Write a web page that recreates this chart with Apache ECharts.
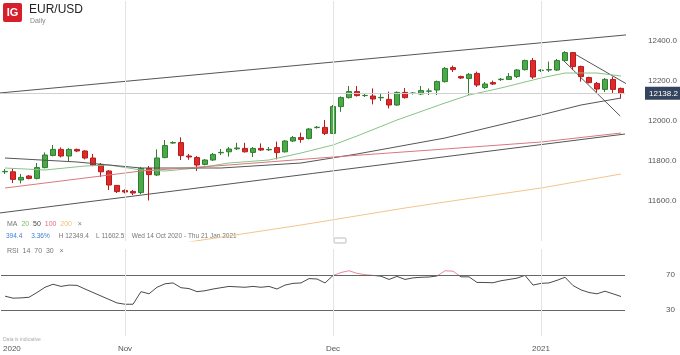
<!DOCTYPE html>
<html>
<head>
<meta charset="utf-8">
<script src="https://cdn.jsdelivr.net/npm/echarts@6/dist/echarts.min.js"></script>
<style>
  html, body { margin: 0; padding: 0; background: #fff; }
  #chart { width: 680px; height: 355px; }
</style>
</head>
<body>
<div id="chart"></div>
<script>
// daily candles, 14 Oct 2020 .. mid Jan 2021 (price x 10000)
const opens = [11746,11746,11705,11725,11713,11767,11828,11858,11825,11858,11850,11815,11783,11750,11678,11652,11648,11642,11763,11730,
  11817,11890,11892,11825,11817,11783,11805,11841,11846,11861,11863,11843,11863,11856,11867,11846,11900,11917,11913,11967,
  11968,11938,12072,12117,12147,12127,12125,12116,12108,12080,12143,12138,12135,12149,12155,12197,12267,12222,12213,12238,
  12167,12192,12207,12208,12222,12257,12302,12252,12255,12255,12302,12342,12272,12217,12188,12158,12208,12163];
const closes = [11748,11708,11718,11713,11767,11830,11858,11825,11858,11850,11815,11780,11746,11680,11647,11645,11640,11763,11732,11815,
  11877,11892,11827,11820,11780,11805,11833,11843,11860,11865,11846,11863,11855,11858,11842,11900,11917,11908,11960,11969,
  11938,12072,12117,12147,12127,12128,12110,12118,12080,12143,12117,12140,12152,12150,12197,12263,12257,12215,12233,12180,
  12185,12185,12209,12222,12255,12302,12220,12254,12257,12302,12342,12272,12222,12192,12160,12208,12158,12138.2];
const highs = [11760,11762,11735,11730,11790,11843,11880,11868,11864,11862,11855,11835,11790,11755,11680,11658,11655,11770,11775,11858,
  11905,11898,11918,11835,11825,11810,11840,11860,11870,11891,11891,11870,11888,11870,11897,11905,11925,11942,11965,11975,
  12005,12080,12123,12175,12175,12135,12163,12138,12147,12148,12165,12145,12175,12163,12202,12270,12277,12227,12240,12247,
  12195,12202,12215,12240,12260,12307,12315,12260,12297,12310,12349.4,12345,12277,12222,12195,12215,12222,12167];
const lows = [11735,11690,11688,11708,11708,11763,11823,11818,11797,11844,11808,11774,11720,11655,11640,11638,11630,11634,11602.5,11725,
  11814,11886,11805,11806,11750,11778,11800,11830,11822,11855,11842,11820,11850,11850,11808,11842,11895,11891,11908,11962,
  11930,11935,12046,12112,12122,12120,12083,12100,12063,12075,12112,12132,12130,12130,12130,12192,12245,12210,12130,12170,
  12160,12180,12200,12205,12215,12252,12210,12245,12245,12250,12295,12255,12197,12188,12142,12145,12138,12113];

const rsi14 = [45.8,43.5,43.8,44.5,50,56,59.5,57,58.5,58.2,54,50,46,42,38,36.5,36.5,51,48.5,56,
  60,61,55.5,54.5,51,52,54,55.5,57,56.5,56,57,56,57,54,58.5,60.5,61,66,65.5,
  61,69.5,73,75,72,70.5,69.7,68.7,65,68.5,65,66.8,67.5,67.8,69,75,74.5,68,68,61.6,
  61.5,61.2,63.5,65,66.5,69.7,58.5,60.5,61,64,67.5,58,53,50,48.5,51.5,48.5,45.4];

// moving averages: [candle index, price]
const ma20 = [[0,11765],[5,11755],[10,11775],[13,11780],[17,11755],[20,11750],[24,11765],[28,11790],[33,11805],[37,11840],
  [41,11880],[44,11925],[49,12005],[55,12090],[58,12130],[62,12165],[67,12215],[70,12240],[74,12240],[77,12225]];
const ma50 = [[0,11815],[9,11795],[17,11765],[27,11765],[37,11790],[44,11835],[55,11915],[67,12030],[72,12080],[77,12115]];
const ma100 = [[0,11665],[17,11750],[28,11780],[41,11820],[55,11860],[67,11895],[77,11940]];
const ma200 = [[23,11395],[37,11480],[50,11565],[55,11595],[67,11665],[77,11735]];

// hand drawn trend lines
const trendLines = [
  [[-0.7, 12140], [77.8, 12431]],
  [[-0.7, 11540], [77.5, 11935]],
  [[71, 12340], [77.8, 12183]],
  [[70, 12295], [76.9, 12025]]
];

const monthTicks = { 15: 'Nov', 41: 'Dec', 67: '2021' };
const lastPrice = 12138.2;
const rsiLevels = [70, 30];

const FONT = 'Liberation Sans, Arial, sans-serif';
const cats = opens.map((_, i) => String(i));
const candles = opens.map((o, i) => [o, closes[i], lows[i], highs[i]]);
const monthMarks = Object.keys(monthTicks).map((k) => ({
  xAxis: k, lineStyle: { color: '#e4e4e4', width: 1, type: 'solid' }, label: { show: false }
}));

const chart = echarts.init(document.getElementById('chart'));

const maLine = (name, data, color) => ({
  name, type: 'line', xAxisIndex: 2, yAxisIndex: 0, data,
  symbol: 'none', silent: true, clip: true,
  lineStyle: { color, width: 1 }
});

// RSI above 70 drawn pink (gradient in pixel space of the RSI grid)
const rsiColor = {
  type: 'linear', x: 0, y: 249, x2: 0, y2: 336, global: true,
  colorStops: [
    { offset: 0, color: '#e6899a' }, { offset: 0.3, color: '#e6899a' },
    { offset: 0.3, color: '#4a4a4a' }, { offset: 1, color: '#4a4a4a' }
  ]
};

chart.setOption({
  animation: false,
  textStyle: { fontFamily: FONT },
  grid: [
    { left: 1, right: 55, top: 1, height: 240 },
    { left: 1, right: 55, top: 249, height: 87 }
  ],
  xAxis: [
    {
      type: 'category', gridIndex: 0, data: cats, boundaryGap: true,
      axisLine: { show: false }, axisTick: { show: false }, axisLabel: { show: false }, splitLine: { show: false }
    },
    {
      type: 'category', gridIndex: 1, data: cats, boundaryGap: true,
      axisLine: { show: false }, axisTick: { show: false }, splitLine: { show: false },
      axisLabel: {
        interval: (i) => i in monthTicks,
        formatter: (v) => monthTicks[v] || '',
        fontSize: 8, color: '#555', margin: 9
      }
    },
    { type: 'value', gridIndex: 0, min: -0.5, max: 77.5, show: false }
  ],
  yAxis: [
    {
      type: 'value', gridIndex: 0, position: 'right', min: 11400, max: 12600, interval: 200,
      axisLine: { show: false }, axisTick: { show: false }, splitLine: { show: false },
      axisLabel: {
        showMinLabel: false, showMaxLabel: false,
        formatter: (v) => v.toFixed(1), fontSize: 8, color: '#555', margin: 23
      }
    },
    {
      type: 'value', gridIndex: 1, position: 'right', min: 0, max: 100, interval: 10,
      axisLine: { show: false }, axisTick: { show: false }, splitLine: { show: false },
      axisLabel: {
        formatter: (v) => rsiLevels.includes(v) ? String(v) : '',
        fontSize: 8, color: '#555', margin: 41
      }
    }
  ],
  series: [
    {
      type: 'candlestick', xAxisIndex: 0, yAxisIndex: 0, data: candles, barWidth: 6,
      itemStyle: { color: '#4ba84b', color0: '#e02a2a', borderColor: '#2f7f2f', borderColor0: '#b51d1d', borderWidth: 1 },
      markLine: {
        silent: true, symbol: 'none',
        lineStyle: { color: '#cfcfcf', width: 1, type: 'solid' },
        label: {
          show: true, position: 'end', distance: 20, formatter: lastPrice.toFixed(1),
          backgroundColor: '#34445e', color: '#fff', padding: [3, 4, 2, 4], fontSize: 8
        },
        data: [{ yAxis: lastPrice }].concat(monthMarks)
      }
    },
    maLine('MA20', ma20, '#86c486'),
    maLine('MA50', ma50, '#555'),
    maLine('MA100', ma100, '#d8787f'),
    maLine('MA200', ma200, '#f3c58a'),
    {
      type: 'lines', coordinateSystem: 'cartesian2d', xAxisIndex: 2, yAxisIndex: 0, silent: true,
      lineStyle: { color: '#555', width: 1, opacity: 1 },
      data: trendLines.map((c) => ({ coords: c }))
    },
    {
      name: 'RSI', type: 'line', xAxisIndex: 1, yAxisIndex: 1, data: rsi14,
      symbol: 'none', silent: true, lineStyle: { width: 1, color: rsiColor },
      markLine: {
        silent: true, symbol: 'none', label: { show: false },
        lineStyle: { color: '#666', width: 1, type: 'solid' },
        data: rsiLevels.map((v) => ({ yAxis: v })).concat(monthMarks)
      }
    }
  ],
  graphic: [
    { type: 'rect', shape: { x: 3, y: 3, width: 19, height: 19, r: 2 }, style: { fill: '#d61f2a' } },
    { type: 'text', x: 12.5, y: 13, style: { text: 'IG', fill: '#fff', font: 'bold 11px ' + FONT, align: 'center', verticalAlign: 'middle' } },
    { type: 'text', x: 29, y: 10, style: { text: 'EUR/USD', fill: '#222', font: '12px ' + FONT, verticalAlign: 'middle' } },
    { type: 'text', x: 30, y: 21, style: { text: 'Daily', fill: '#888', font: '7px ' + FONT, verticalAlign: 'middle' } },
    {
      type: 'text', x: 7, y: 224,
      style: {
        text: '{k|MA}  {g|20}  {d|50}  {r|100}  {o|200}   {k|×}', verticalAlign: 'middle', font: '7px ' + FONT,
        rich: {
          k: { fill: '#777', fontSize: 7 }, g: { fill: '#7cbf6a', fontSize: 7 }, d: { fill: '#444', fontSize: 7 },
          r: { fill: '#e0707a', fontSize: 7 }, o: { fill: '#f0c070', fontSize: 7 }
        }
      }
    },
    {
      type: 'text', x: 6, y: 236,
      style: {
        text: '{b|394.4}     {b|3.36%}     {k|H 12349.4}    {k|L 11602.5}    {k|Wed 14 Oct 2020 - Thu 21 Jan 2021}',
        verticalAlign: 'middle', font: '6.5px ' + FONT,
        rich: { b: { fill: '#3b7dd8', fontSize: 6.5 }, k: { fill: '#777', fontSize: 6.5 } }
      }
    },
    { type: 'rect', shape: { x: 334, y: 238, width: 12, height: 5, r: 1 }, style: { fill: '#fff', stroke: '#bbb', lineWidth: 1 } },
    { type: 'text', x: 7, y: 251, style: { text: 'RSI  14  70  30   ×', fill: '#777', font: '7px ' + FONT, verticalAlign: 'middle' } },
    { type: 'text', x: 3, y: 340, style: { text: 'Data is indicative', fill: '#aaa', font: '5px ' + FONT, verticalAlign: 'middle' } },
    { type: 'text', x: 3, y: 349, style: { text: '2020', fill: '#555', font: '8px ' + FONT, verticalAlign: 'middle' } }
  ]
});
</script>
</body>
</html>
